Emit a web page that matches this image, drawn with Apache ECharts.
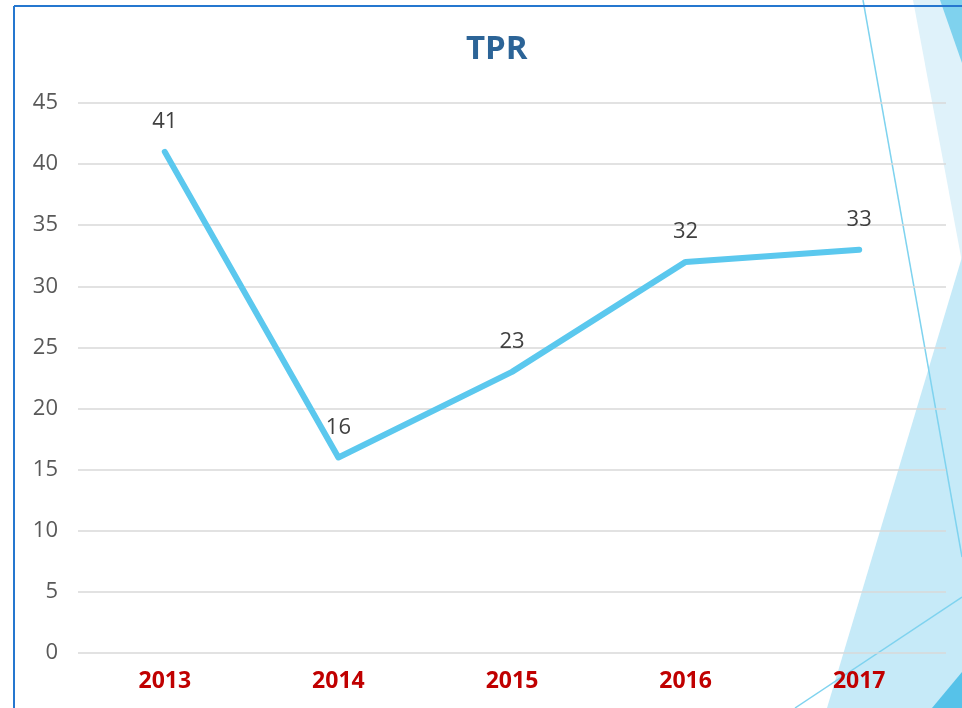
<!DOCTYPE html>
<html>
<head>
<meta charset="utf-8">
<script src="https://cdn.jsdelivr.net/npm/echarts@6/dist/echarts.min.js"></script>
<style>
  html, body { margin: 0; padding: 0; background: #fff; }
  #chart { width: 962px; height: 708px; }
</style>
</head>
<body>
<div id="chart"></div>
<script>
// 数据
const years = ['2013', '2014', '2015', '2016', '2017']
const tprValues = [41, 16, 23, 32, 33]
const yTicks = { min: 0, max: 45, interval: 5 }

const chart = echarts.init(document.getElementById('chart'))

// 背景装饰（幻灯片模板的斜条）
const deco = [
  { type: 'polygon', z: -10, shape: { points: [[913, 0], [962, 0], [962, 262]] }, style: { fill: '#dff2fa' } },
  { type: 'polygon', z: -9, shape: { points: [[940, 0], [962, 0], [962, 63]] }, style: { fill: '#7fd2ee' } },
  { type: 'polygon', z: -9, shape: { points: [[962, 257], [962, 708], [827, 708]] }, style: { fill: '#c6eaf8' } },
  { type: 'line', z: -8, shape: { x1: 863, y1: 0, x2: 962, y2: 557 }, style: { stroke: '#7fd3ef', lineWidth: 1.5 } },
  { type: 'line', z: -8, shape: { x1: 795, y1: 708, x2: 962, y2: 597 }, style: { stroke: '#7fd3ef', lineWidth: 1.5 } },
  { type: 'polygon', z: -7, shape: { points: [[932, 708], [962, 708], [962, 672]] }, style: { fill: '#56c2e9' } },
  // 边框
  { type: 'line', z: 10, shape: { x1: 14, y1: 6, x2: 962, y2: 6 }, style: { stroke: '#2577cf', lineWidth: 2 } },
  { type: 'line', z: 10, shape: { x1: 14, y1: 6, x2: 14, y2: 708 }, style: { stroke: '#2577cf', lineWidth: 2 } },
]

const option = {
  backgroundColor: '#ffffff',
  title: {
    text: 'TPR',
    left: 461,
    top: 28,
    textStyle: { color: '#2c6497', fontSize: 33, fontWeight: 'bold', fontFamily: 'Open Sans' },
  },
  graphic: deco,
  grid: { left: 78, right: 16, top: 103, bottom: 55 },
  xAxis: {
    type: 'category',
    data: years,
    boundaryGap: true,
    axisLine: { show: false },
    axisTick: { show: false },
    axisLabel: { color: '#c00000', fontSize: 23, fontWeight: 'bold', fontFamily: 'Open Sans', margin: 17 },
  },
  yAxis: {
    type: 'value',
    min: yTicks.min,
    max: yTicks.max,
    interval: yTicks.interval,
    axisLine: { show: false },
    axisTick: { show: false },
    axisLabel: { color: '#595959', fontSize: 22, fontFamily: 'Open Sans', margin: 20 },
    splitLine: { lineStyle: { color: '#d9d9d9', width: 1.5 } },
  },
  series: [
    {
      name: 'TPR',
      type: 'line',
      data: tprValues,
      symbol: 'circle',
      symbolSize: 2,
      showSymbol: true,
      itemStyle: { color: 'rgba(91,200,238,0)', borderWidth: 0 },
      lineStyle: { color: '#5bc8ee', width: 6, cap: 'round', join: 'round' },
      label: {
        show: true,
        position: 'top',
        distance: 18,
        color: '#404040',
        fontSize: 22,
        fontFamily: 'Open Sans',
      },
    },
  ],
}

chart.setOption(option)
</script>
</body>
</html>
